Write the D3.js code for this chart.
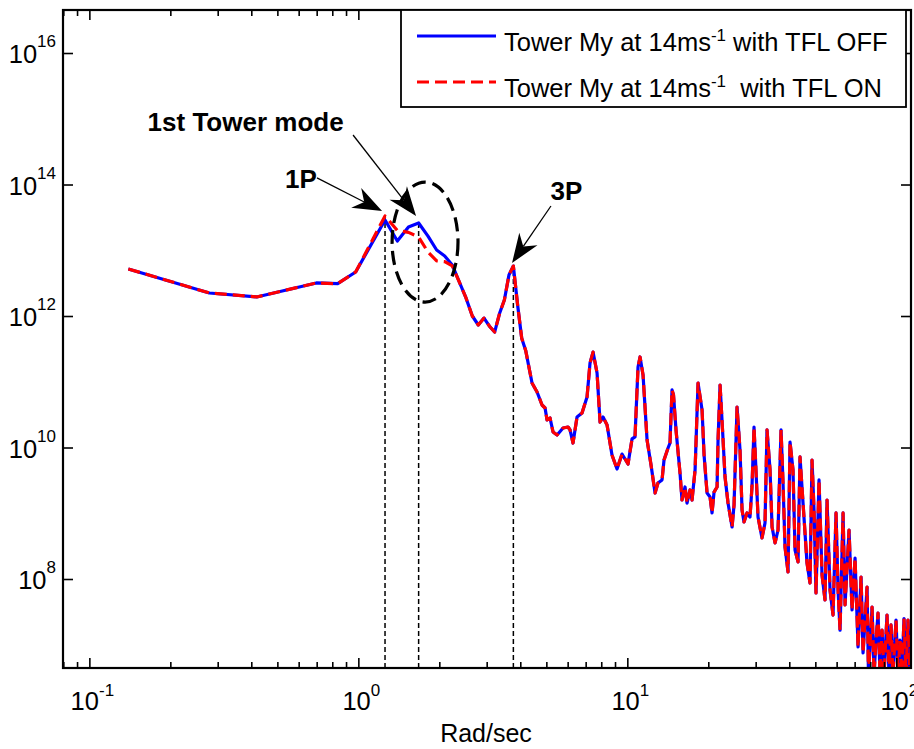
<!DOCTYPE html>
<html><head><meta charset="utf-8">
<script src="https://cdn.jsdelivr.net/npm/d3@7"></script>
<style>
body{margin:0;background:#fff}
text{font-family:Arial,"Liberation Sans",Helvetica,sans-serif;fill:#000}
</style>
</head><body>
<svg id="c" width="914" height="749"></svg>
<script>
// ---------- data ----------
const xDomain = [0.0798, 113.4];
const yDomain = [4.43e6, 4.51e16];

// low-frequency part where the two runs differ (rad/s)
const headFreq = [0.1396,0.2793,0.4189,0.6981,0.8378,0.9774,1.2566,1.3963,1.5359,1.6755,1.8151,1.9548,2.0944,2.2340];
const offHead  = [5.2e12,2.24e12,1.95e12,3.18e12,3.1e12,4.67e12,2.88e13,1.38e13,2.26e13,2.6e13,1.64e13,1.01e13,8.2e12,5.97e12];
const onHead   = [5.2e12,2.24e12,1.95e12,3.18e12,3.1e12,4.67e12,3.32e13,2.0e13,1.87e13,1.59e13,9.4e12,6.9e12,6.7e12,5.8e12];

// higher-frequency part, common to both runs
const tailFreq = [2.3736,2.5133,2.6529,2.7925,2.9322,3.0718,3.2114,3.3510,3.4907,3.6303,3.7699,3.9095,4.0492,4.1888,4.328,
 4.423,4.617,4.819,4.945,5.030,5.160,5.295,5.480,5.768,6.020,6.124,6.282,6.501,6.786,7.083,7.267,7.457,7.717,7.918,8.125,8.407,
 8.77,9.156,9.557,10.06,10.41,10.68,10.96,11.15,11.44,11.84,12.25,12.68,13.00,13.46,13.69,14.17,14.41,14.66,14.85,15.17,15.70,
 15.97,16.39,16.67,17.11,17.40,17.86,18.32,18.96,19.29,19.79,20.30,20.65,21.01,21.56,21.74,22.12,22.49,23.08,23.68,24.51,24.93,
 25.58,26.24,26.70,27.15,27.86,28.58,29.07,29.58,30.08,30.61,31.67,32.50,33.06,33.93,34.52,35.42,36.33,37.28,37.92,38.57,39.58,
 40.26,41.30,42.02,43.12,43.85,45.00,46.56,47.77,48.60,49.44,50.29,51.60,52.95,54.32,55.27,56.70,58.18,59.69,60.73,61.77,63.39,
 64.48,66.72,68.46,70.24,72.07,73.95,75.22,77.85,78.80,81.25,82.64,84.07,85.51,86.99,88.49,90.00,92.35,93.95,95.56,97.20,99.75,
 101.5,103.2,105.0,106.8,108.7,110.5,112.4,114.3];
const tailVals = [3.29e12,1.88e12,1.0e12,7.3e11,9.3e11,7.0e11,5.7e11,1.1e12,1.75e12,4.2e12,5.75e12,1.47e12,4.6e11,3.0e11,1.51e11,
 9.57e10,6.98e10,4.43e10,3.99e10,2.62e10,2.81e10,1.72e10,1.55e10,1.98e10,2.05e10,1.85e10,1.17e10,2.91e10,3.35e10,5.86e10,1.93e11,2.83e11,1.36e11,2.44e10,2.91e10,2.20e10,
 7.69e9,4.71e9,7.96e9,5.61e9,1.35e10,1.45e10,1.68e11,2.38e11,1.27e11,1.30e10,5.42e9,2.03e9,2.88e9,3.21e9,6.46e9,9.82e9,1.17e10,7.50e10,6.28e10,1.85e10,4.09e9,
 1.59e9,2.51e9,1.43e9,2.26e9,1.59e9,4.55e9,9.57e10,3.72e10,7.69e9,2.03e9,1.77e9,1.01e9,2.10e9,2.51e9,1.30e10,8.93e10,2.62e10,3.56e9,1.43e9,6.18e8,1.33e9,
 4.13e10,9.16e9,1.12e9,7.36e8,1.01e9,8.77e8,2.51e9,2.05e10,4.55e9,8.77e8,4.21e8,7.11e8,1.85e10,4.55e9,6.18e8,3.53e8,5.56e8,1.85e10,2.88e9,3.07e8,1.28e8,
 1.21e10,4.55e9,2.76e8,1.82e8,7.18e9,1.43e9,1.75e8,8.69e7,6.46e9,1.12e9,6.12e7,3.21e9,1.15e8,4.80e7,1.59e9,6.81e7,2.83e7,1.01e9,6.81e7,1.67e7,1.01e9,
 4.03e7,5.56e8,3.38e7,2.08e8,9.24e6,1.07e8,7.50e6,7.55e7,3.5e6,3.75e7,3.5e6,1.18e7,3.04e7,3.5e6,1.67e7,3.5e6,2.83e7,3.5e6,2.0e7,3.5e6,2.38e7,
 3.5e6,1.18e7,3.5e6,2.5e7,3.5e6,2.38e7,3.5e6,2.14e7];

const xTickVals = [0.1, 1, 10, 100];
const xTickExp  = ["-1", "0", "1", "2"];
const yTickVals = [1e8, 1e10, 1e12, 1e14, 1e16];
const yTickExp  = ["8", "10", "12", "14", "16"];
const xLabel = "Rad/sec";

const legendMain = ["Tower My at 14ms", "Tower My at 14ms"];
const legendSup  = ["-1", "-1"];
const legendTail = [" with TFL OFF", "  with TFL ON"];

const markerFreqs = [1.2566, 1.6755, 3.7699];   // 1P, 1st tower mode, 3P
const annoText = ["1P", "1st Tower mode", "3P"];
const annoTextPos = [[0.612, 8.85e13], [0.381, 6.5e14], [5.94, 5.8e13]];
const annoFrom = [[0.702, 1.26e14], [0.9557, 5.66e14], [5.20, 4.71e13]];
const annoTo   = [[1.225, 3.95e13], [1.639, 3.32e13], [3.727, 6.4e12]];
const ellipseBox = [[1.335, 2.347], [1.63e12, 1.09e14]];

// ---------- chart ----------
const svg = d3.select("#c");
const L = 63, R = 911, T = 10, B = 668;
const x = d3.scaleLog().domain(xDomain).range([L, R]);
const y = d3.scaleLog().domain(yDomain).range([B, T]);
const LW = 3.2, DASH = "12,6";

svg.append("rect").attr("width", 914).attr("height", 749).attr("fill", "#fff");
svg.append("defs").append("clipPath").attr("id", "clip")
  .append("rect").attr("x", L).attr("y", T).attr("width", R - L).attr("height", B - T);

const offData = headFreq.map((f, i) => [f, offHead[i]]).concat(tailFreq.map((f, i) => [f, tailVals[i]]));
const onData  = headFreq.map((f, i) => [f, onHead[i]]).concat(tailFreq.map((f, i) => [f, tailVals[i]]));

const line = d3.line().x(d => x(d[0])).y(d => y(d[1]));
const plot = svg.append("g").attr("clip-path", "url(#clip)");

// vertical marker lines
const valAt = (data, f) => data.reduce((b, d) => Math.abs(d[0] - f) < Math.abs(b[0] - f) ? d : b)[1];
plot.selectAll("line.marker").data(markerFreqs).join("line")
  .attr("class", "marker")
  .attr("x1", d => x(d)).attr("x2", d => x(d))
  .attr("y1", y(yDomain[0])).attr("y2", d => y(Math.max(valAt(offData, d), valAt(onData, d))))
  .attr("stroke", "#000").attr("stroke-width", 1.5).attr("stroke-dasharray", "5,3");

plot.append("path").datum(offData).attr("d", line)
  .attr("fill", "none").attr("stroke", "#0000ff").attr("stroke-width", LW)
  .attr("stroke-linejoin", "round");
plot.append("path").datum(onData).attr("d", line)
  .attr("fill", "none").attr("stroke", "#ff0000").attr("stroke-width", LW)
  .attr("stroke-dasharray", DASH).attr("stroke-linejoin", "round");

// axes ticks (inward)
const minorX = [];
for (let d = -2; d <= 2; d++) for (let m = 2; m <= 9; m++) {
  const v = m * Math.pow(10, d);
  if (v > xDomain[0] && v < xDomain[1]) minorX.push(v);
}
function tickAxis(axisFn, scale, vals, size, tr) {
  const g = svg.append("g").attr("transform", tr)
    .call(axisFn(scale).tickValues(vals).tickSize(-size).tickSizeOuter(0).tickFormat(""));
  g.select(".domain").remove();
  g.selectAll(".tick line").attr("stroke", "#000").attr("stroke-width", 1.6);
}
tickAxis(d3.axisBottom, x, xTickVals, 10, `translate(0,${B})`);
tickAxis(d3.axisBottom, x, minorX, 6, `translate(0,${B})`);
tickAxis(d3.axisTop, x, xTickVals, 10, `translate(0,${T})`);
tickAxis(d3.axisTop, x, minorX, 6, `translate(0,${T})`);
tickAxis(d3.axisLeft, y, yTickVals, 10, `translate(${L},0)`);
tickAxis(d3.axisRight, y, yTickVals, 10, `translate(${R},0)`);

svg.append("rect").attr("x", L).attr("y", T).attr("width", R - L).attr("height", B - T)
  .attr("fill", "none").attr("stroke", "#000").attr("stroke-width", 2.2);

// tick labels
const xl = svg.selectAll("text.xl").data(xTickVals).join("text").attr("class", "xl")
  .attr("x", d => x(d) + 3).attr("y", 710).attr("text-anchor", "middle").attr("font-size", 25.5);
xl.append("tspan").text("10");
xl.append("tspan").attr("dy", -14).attr("font-size", 17).text((d, i) => xTickExp[i]);

const yl = svg.selectAll("text.yl").data(yTickVals).join("text").attr("class", "yl")
  .attr("x", 56).attr("y", d => y(d) + 10).attr("text-anchor", "end").attr("font-size", 25.5);
yl.append("tspan").text("10");
yl.append("tspan").attr("dy", -16).attr("font-size", 17).text((d, i) => yTickExp[i]);

svg.append("text").attr("x", 486).attr("y", 742).attr("text-anchor", "middle")
  .attr("font-size", 25).text(xLabel);

// legend
const lg = svg.append("g");
lg.append("rect").attr("x", 401).attr("y", T).attr("width", 505).attr("height", 97)
  .attr("fill", "#fff").attr("stroke", "#000").attr("stroke-width", 1.8);
const lstyles = [{c: "#0000ff", dash: null}, {c: "#ff0000", dash: DASH}];
legendMain.forEach((t, i) => {
  const ly = 36 + i * 46;
  lg.append("line").attr("x1", 417).attr("x2", 496).attr("y1", ly).attr("y2", ly)
    .attr("stroke", lstyles[i].c).attr("stroke-width", LW).attr("stroke-dasharray", lstyles[i].dash);
  const tx = lg.append("text").attr("x", 504).attr("y", ly + 15).attr("font-size", 25.5)
    .style("white-space", "pre");
  tx.append("tspan").text(t);
  tx.append("tspan").attr("dy", -10).attr("font-size", 17).text(legendSup[i]);
  tx.append("tspan").attr("dy", 10).text(legendTail[i]);
});

// ellipse
svg.append("ellipse")
  .attr("cx", (x(ellipseBox[0][0]) + x(ellipseBox[0][1])) / 2)
  .attr("cy", (y(ellipseBox[1][0]) + y(ellipseBox[1][1])) / 2)
  .attr("rx", (x(ellipseBox[0][1]) - x(ellipseBox[0][0])) / 2)
  .attr("ry", (y(ellipseBox[1][0]) - y(ellipseBox[1][1])) / 2)
  .attr("fill", "none").attr("stroke", "#000").attr("stroke-width", 3.2).attr("stroke-dasharray", "14,7");

// annotations
annoText.forEach((t, i) => {
  svg.append("text").attr("x", x(annoTextPos[i][0])).attr("y", y(annoTextPos[i][1]))
    .attr("text-anchor", "middle").attr("font-size", 26).attr("font-weight", "bold").text(t);
  const x1 = x(annoFrom[i][0]), y1 = y(annoFrom[i][1]);
  const x2 = x(annoTo[i][0]), y2 = y(annoTo[i][1]);
  const len = Math.hypot(x2 - x1, y2 - y1), ux = (x2 - x1) / len, uy = (y2 - y1) / len;
  const px = -uy, py = ux, HL = 29, HW = 11, NT = 9;
  const nx = x2 - (HL - NT) * ux, ny = y2 - (HL - NT) * uy;
  svg.append("line").attr("x1", x1).attr("y1", y1).attr("x2", nx).attr("y2", ny)
    .attr("stroke", "#000").attr("stroke-width", 1.3);
  const pts = [[x2, y2], [x2 - HL * ux + HW * px, y2 - HL * uy + HW * py], [nx, ny],
               [x2 - HL * ux - HW * px, y2 - HL * uy - HW * py]];
  svg.append("path").attr("d", "M" + pts.map(p => p.join(",")).join("L") + "Z").attr("fill", "#000");
});
</script>
</body></html>
